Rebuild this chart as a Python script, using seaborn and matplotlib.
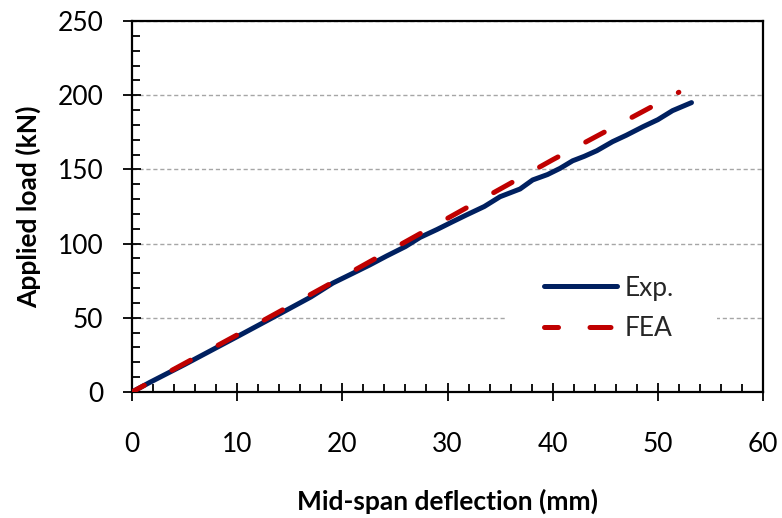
import matplotlib
matplotlib.use("Agg")
import matplotlib.pyplot as plt
import seaborn as sns
from matplotlib.ticker import MultipleLocator
from matplotlib.patches import Rectangle

# ---- data ----
exp_x = [0, 1.7, 5.0, 10.0, 14.0, 17.0, 19.1, 21.0, 22.6, 24.2, 26.0, 27.4, 29.0, 30.5, 31.8,
         33.5, 35.0, 36.9, 38.1, 39.5, 40.7, 41.9, 43.0, 44.2, 45.7, 47.0, 48.6, 50.0, 51.4, 53.2]
exp_y = [0, 6.5, 18.5, 37.3, 52.5, 64.0, 73.4, 80.0, 85.6, 91.6, 98.0, 104.2, 109.5, 114.8, 119.3,
         125.0, 131.6, 136.8, 142.9, 146.5, 150.7, 155.8, 158.8, 162.6, 168.7, 173.0, 178.8, 183.5, 189.6, 195.0]
fea_x = [0, 10, 20, 30, 40, 52]
fea_y = [0, 38.5, 77.5, 117.0, 156.5, 202.0]

x_ticks = [0, 10, 20, 30, 40, 50, 60]
y_ticks = [0, 50, 100, 150, 200, 250]
x_label = "Mid-span deflection (mm)"
y_label = "Applied load (kN)"
series_names = ["Exp.", "FEA"]

sns.set_theme(style="white")
plt.rcParams["font.family"] = ["Lato", "DejaVu Sans"]

fig = plt.figure(figsize=(7.82, 5.18), dpi=100)
W, H = 782, 518
x0, x1, yt, yb = 132, 763, 21, 392
ax = fig.add_axes([x0 / W, (H - yb) / H, (x1 - x0) / W, (yb - yt) / H])

sns.lineplot(x=exp_x, y=exp_y, ax=ax, color="#002060", lw=3.6, label=series_names[0],
             solid_capstyle="round", solid_joinstyle="round", zorder=3)
sns.lineplot(x=fea_x, y=fea_y, ax=ax, color="#C00000", lw=3.6, label=series_names[1],
             linestyle=(1.4, (4.2, 6.3)), dash_capstyle="round", zorder=4)

ax.set_xlim(0, 60)
ax.set_ylim(0, 250)
ax.set_xticks(x_ticks)
ax.set_yticks(y_ticks)
ax.xaxis.set_minor_locator(MultipleLocator(2))
ax.yaxis.set_minor_locator(MultipleLocator(10))

ax.yaxis.grid(True, which="major", color="#a6a6a6", linestyle=(0, (3, 2)), lw=1.0)
ax.xaxis.grid(False)
ax.set_axisbelow(True)

# white legend background area (hides the gridline behind the legend)
ax.add_patch(Rectangle(((505 - x0) / (x1 - x0), (yb - 345) / (yb - yt)),
                       (717 - 505) / (x1 - x0), (345 - 268) / (yb - yt),
                       transform=ax.transAxes, facecolor="white", edgecolor="none", zorder=1))

for s in ax.spines.values():
    s.set_visible(True)
    s.set_color("black")
    s.set_linewidth(1.6)

ax.tick_params(which="major", direction="inout", length=13.5, width=1.3, color="black",
               labelsize=19, labelcolor="black", pad=14)
ax.tick_params(axis="x", which="major", pad=22)
ax.tick_params(which="minor", direction="in", length=6, width=1.3, color="black")
ax.tick_params(bottom=True, left=True, top=False, right=False, which="both")

ax.set_xlabel(x_label, fontsize=19, fontweight="bold", color="black")
ax.set_ylabel(y_label, fontsize=19, fontweight="bold", color="black")
ax.xaxis.set_label_coords(0.5, (yb - 501) / (yb - yt))
ax.xaxis.label.set_va("center")
ax.yaxis.set_label_coords((28 - x0) / (x1 - x0), 0.5)
ax.yaxis.label.set_va("center")

leg = ax.legend(loc="center", bbox_to_anchor=((609 - x0) / (x1 - x0), (yb - 308.5) / (yb - yt)),
                fontsize=19, frameon=False,
                handlelength=2.75, handletextpad=0.28, labelspacing=0.6, borderpad=0.3)

fig.savefig("out.png", dpi=100)
